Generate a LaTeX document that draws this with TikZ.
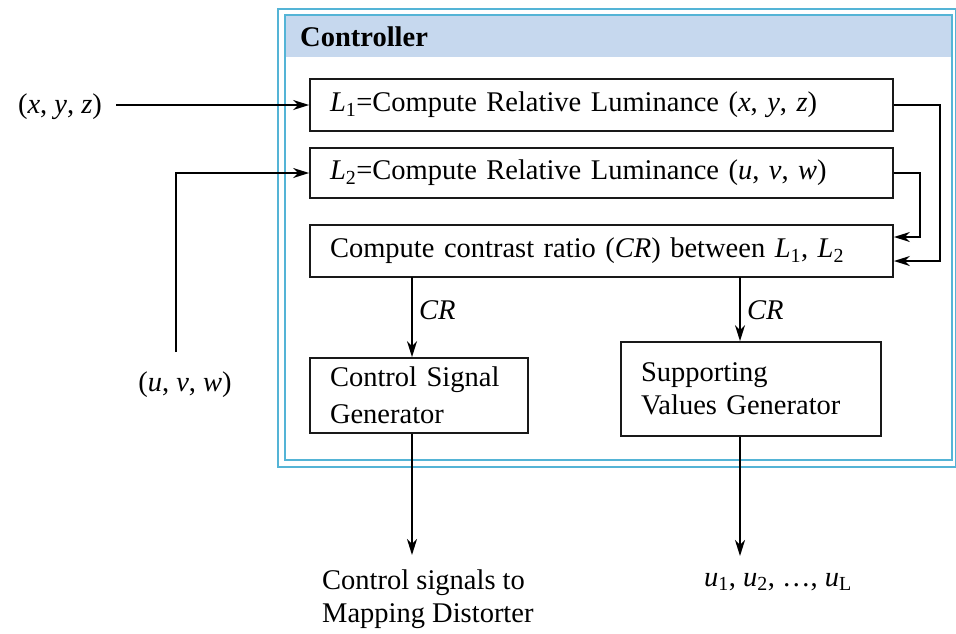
\documentclass[tikz,border=0pt]{standalone}
\usepackage{fontspec}
\setmainfont{Liberation Serif}
\usetikzlibrary{arrows.meta,calc}

\definecolor{framecyan}{RGB}{84,180,214}
\definecolor{headblue}{RGB}{198,216,238}

\tikzset{
  base/.style={font=\fontsize{28.5}{33}\selectfont},
  block/.style={base, draw=black!90, line width=1.8pt, fill=white, inner xsep=20pt, inner ysep=0pt, align=left},
  wire/.style={line width=2pt, -{Stealth[length=16pt,width=10pt,inset=5pt]}},
  lbl/.style={base, inner sep=0pt},
  itlbl/.style={lbl, font=\fontsize{28.5}{33}\selectfont\itshape},
}

\begin{document}
\begin{tikzpicture}[x=1pt,y=-1pt]
\useasboundingbox (0,0) rectangle (956,633);

% controller frame: double cyan border and header band
\fill[headblue] (285,15) rectangle (952,57);
\draw[framecyan, line width=2pt] (278,9) rectangle (955.5,467);
\draw[framecyan, line width=2pt] (285,15) rectangle (952,460);
\node[lbl, anchor=west, font=\fontsize{28.5}{33}\selectfont\bfseries] (title) at (300,37) {Controller};

% computing blocks
\node[block, minimum width=583pt, minimum height=52pt, text width=543pt] (L1) at (601.5,105)
  {\textit{L}\textsubscript{1}=Compute Relative Luminance (\textit{x}, \textit{y}, \textit{z})};
\node[block, minimum width=583pt, minimum height=50pt, text width=543pt] (L2) at (601.5,173)
  {\textit{L}\textsubscript{2}=Compute Relative Luminance (\textit{u}, \textit{v}, \textit{w})};
\node[block, minimum width=583pt, minimum height=52pt, text width=543pt] (CR) at (601.5,251)
  {Compute contrast ratio (\textit{CR}) between \textit{L}\textsubscript{1}, \textit{L}\textsubscript{2}};

\node[block, minimum width=218pt, minimum height=75pt, text width=178pt] (CSG) at (419,395.5)
  {Control Signal\\[4pt]Generator};
\node[block, minimum width=260pt, minimum height=94pt, text width=220pt] (SVG) at (751,389)
  {Supporting\\Values Generator};

% inputs
\node[lbl] (xyz) at (60,107) {(\textit{x}, \textit{y}, \textit{z})};
\node[lbl] (uvw) at (185,385) {(\textit{u}, \textit{v}, \textit{w})};
\coordinate (uvwtop) at (176,352);
\coordinate (xyzend) at (116,105);

\draw[wire] (xyzend) -- (L1.west);
\draw[wire] (uvwtop) |- (L2.west);

% luminance values into the contrast ratio block
\draw[wire] (L1.east) -- ++(46,0) |- ($(CR.east)+(0,10)$);
\draw[wire] (L2.east) -- ++(26,0) |- ($(CR.east)+(0,-14)$);

% contrast ratio to the generators
\coordinate (crA) at (412,277);
\coordinate (crB) at (740,277);
\draw[wire] (crA) -- (crA |- CSG.north);
\draw[wire] (crB) -- (crB |- SVG.north);
\node[itlbl, anchor=west] (crlabA) at (419,310) {CR};
\node[itlbl, anchor=west] (crlabB) at (747,310) {CR};

% outputs
\node[lbl, anchor=west, align=left] (ctrl) at (322,599) {Control signals to\\Mapping Distorter};
\node[lbl] (uout) at (778,582) {\textit{u}\textsubscript{1}, \textit{u}\textsubscript{2}, \ldots, \textit{u}\textsubscript{L}};
\coordinate (ctrlin) at (412,555);
\coordinate (uin) at (740,556);
\draw[wire] (crA |- CSG.south) -- (ctrlin);
\draw[wire] (crB |- SVG.south) -- (uin);
\end{tikzpicture}
\end{document}
